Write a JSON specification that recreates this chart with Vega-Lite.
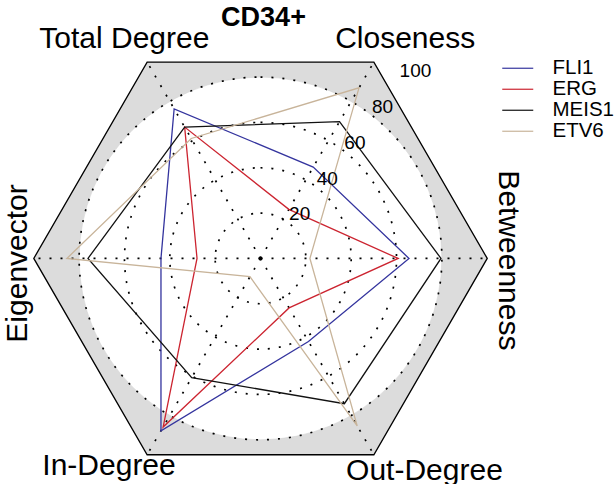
{
  "$schema": "https://vega.github.io/schema/vega-lite/v6.json",
  "width": 616,
  "height": 484,
  "autosize": {"type": "none"},
  "padding": 0,
  "background": "white",
  "config": {"view": {"stroke": null}, "font": "Liberation Sans"},
  "resolve": {"scale": {"radius": "independent"}},
  "datasets": {
    "scores": [
      {"gene": "FLI1", "axis": "Betweenness", "value": 65.5},
      {"gene": "FLI1", "axis": "Closeness", "value": 46.5},
      {"gene": "FLI1", "axis": "Total Degree", "value": 76.2},
      {"gene": "FLI1", "axis": "Eigenvector", "value": 43.9},
      {"gene": "FLI1", "axis": "In-Degree", "value": 87.8},
      {"gene": "FLI1", "axis": "Out-Degree", "value": 42.3},
      {"gene": "ERG", "axis": "Betweenness", "value": 60.7},
      {"gene": "ERG", "axis": "Closeness", "value": 25},
      {"gene": "ERG", "axis": "Total Degree", "value": 66.9},
      {"gene": "ERG", "axis": "Eigenvector", "value": 28},
      {"gene": "ERG", "axis": "In-Degree", "value": 85.9},
      {"gene": "ERG", "axis": "Out-Degree", "value": 25.2},
      {"gene": "MEIS1", "axis": "Betweenness", "value": 79.6},
      {"gene": "MEIS1", "axis": "Closeness", "value": 69.7},
      {"gene": "MEIS1", "axis": "Total Degree", "value": 66.9},
      {"gene": "MEIS1", "axis": "Eigenvector", "value": 76.1},
      {"gene": "MEIS1", "axis": "In-Degree", "value": 60.7},
      {"gene": "MEIS1", "axis": "Out-Degree", "value": 74},
      {"gene": "ETV6", "axis": "Betweenness", "value": 21.8},
      {"gene": "ETV6", "axis": "Closeness", "value": 86.9},
      {"gene": "ETV6", "axis": "Total Degree", "value": 61.1},
      {"gene": "ETV6", "axis": "Eigenvector", "value": 85.4},
      {"gene": "ETV6", "axis": "In-Degree", "value": 9.3},
      {"gene": "ETV6", "axis": "Out-Degree", "value": 85.3}
    ],
    "axes": [
      {"axis": "Betweenness"},
      {"axis": "Closeness"},
      {"axis": "Total Degree"},
      {"axis": "Eigenvector"},
      {"axis": "In-Degree"},
      {"axis": "Out-Degree"}
    ],
    "rings": [{"level": 20}, {"level": 40}, {"level": 60}, {"level": 80}],
    "ticks": [{"tick": 20}, {"tick": 40}, {"tick": 60}, {"tick": 80}, {"tick": 100}],
    "centre": [{"label": "centre"}],
    "heading": [{"label": "CD34+"}]
  },
  "layer": [
    {
      "data": {"name": "axes"},
      "transform": [
        {"calculate": "indexof(['Betweenness','Closeness','Total Degree','Eigenvector','In-Degree','Out-Degree'], datum.axis)", "as": "k"},
        {"calculate": "datum.k*PI/3", "as": "ang"},
        {"calculate": "100*cos(datum.ang)", "as": "x"},
        {"calculate": "100*sin(datum.ang)", "as": "y"}
      ],
      "mark": {"type": "line", "interpolate": "linear-closed", "fill": "#dcdcdc", "stroke": "black", "strokeWidth": 1.3},
      "encoding": {
        "x": {"field": "x", "type": "quantitative", "scale": {"domain": [-114.9, 156.8], "nice": false, "zero": false}, "axis": null},
        "y": {"field": "y", "type": "quantitative", "scale": {"domain": [-99.5, 114.0], "nice": false, "zero": false}, "axis": null},
        "order": {"field": "k", "type": "quantitative"}
      }
    },
    {
      "data": {"name": "rings"},
      "transform": [{"filter": "datum.level == 80"}, {"calculate": "0", "as": "cx"}, {"calculate": "0", "as": "cy"}],
      "mark": {"type": "arc", "theta": 0, "theta2": 6.2832, "fill": "white", "stroke": "#cfcfcf", "strokeWidth": 0.5},
      "encoding": {
        "x": {"field": "cx", "type": "quantitative", "axis": null},
        "y": {"field": "cy", "type": "quantitative", "axis": null},
        "radius": {"field": "level", "type": "quantitative", "stack": null, "scale": {"type": "linear", "domain": [0, 100], "range": [0, 226.7], "zero": true, "nice": false}}
      }
    },
    {
      "data": {"name": "rings"},
      "transform": [{"calculate": "0", "as": "cx"}, {"calculate": "0", "as": "cy"}],
      "mark": {"type": "arc", "theta": 0, "theta2": 6.2832, "filled": false, "stroke": "black", "strokeWidth": 1.7, "strokeDash": [2, 9]},
      "encoding": {
        "x": {"field": "cx", "type": "quantitative", "axis": null},
        "y": {"field": "cy", "type": "quantitative", "axis": null},
        "radius": {"field": "level", "type": "quantitative", "stack": null, "scale": {"type": "linear", "domain": [0, 100], "range": [0, 226.7], "zero": true, "nice": false}}
      }
    },
    {
      "data": {"name": "axes"},
      "transform": [
        {"calculate": "indexof(['Betweenness','Closeness','Total Degree','Eigenvector','In-Degree','Out-Degree'], datum.axis)", "as": "k"},
        {"calculate": "datum.k*PI/3", "as": "ang"},
        {"calculate": "100*cos(datum.ang)", "as": "x"},
        {"calculate": "100*sin(datum.ang)", "as": "y"},
        {"calculate": "0", "as": "cx"},
        {"calculate": "0", "as": "cy"}
      ],
      "mark": {"type": "rule", "stroke": "black", "strokeWidth": 1.7, "strokeDash": [2, 9]},
      "encoding": {
        "x": {"field": "cx", "type": "quantitative", "axis": null},
        "y": {"field": "cy", "type": "quantitative", "axis": null},
        "x2": {"field": "x"},
        "y2": {"field": "y"}
      }
    },
    {
      "data": {"name": "centre"},
      "transform": [{"calculate": "0", "as": "cx"}, {"calculate": "0", "as": "cy"}],
      "mark": {"type": "point", "filled": true, "color": "black", "size": 16, "opacity": 1},
      "encoding": {
        "x": {"field": "cx", "type": "quantitative", "axis": null},
        "y": {"field": "cy", "type": "quantitative", "axis": null}
      }
    },
    {
      "data": {"name": "scores"},
      "transform": [
        {"calculate": "indexof(['Betweenness','Closeness','Total Degree','Eigenvector','In-Degree','Out-Degree'], datum.axis)", "as": "k"},
        {"calculate": "datum.k*PI/3", "as": "ang"},
        {"calculate": "datum.value*cos(datum.ang)", "as": "x"},
        {"calculate": "datum.value*sin(datum.ang)", "as": "y"}
      ],
      "mark": {"type": "line", "interpolate": "linear-closed", "strokeWidth": 1.3},
      "encoding": {
        "x": {"field": "x", "type": "quantitative", "axis": null},
        "y": {"field": "y", "type": "quantitative", "axis": null},
        "order": {"field": "k", "type": "quantitative"},
        "color": {
          "field": "gene", "type": "nominal",
          "scale": {"domain": ["FLI1", "ERG", "MEIS1", "ETV6"], "range": ["#34349e", "#cc2430", "#111111", "#c8b49a"]},
          "legend": {"orient": "none", "legendX": 507.5, "legendY": 58, "title": null, "symbolType": "M-3,0H3", "symbolSize": 106.8, "symbolStrokeWidth": 1.2, "labelFontSize": 20.5, "labelFont": "Liberation Sans", "labelColor": "black", "labelOffset": 24.5, "rowPadding": -1.2, "padding": 0, "labelBaseline": "middle"}
        }
      }
    },
    {
      "data": {"name": "ticks"},
      "transform": [
        {"calculate": "datum.tick*cos(0.916)", "as": "x"},
        {"calculate": "datum.tick*sin(0.916)", "as": "y"}
      ],
      "mark": {"type": "text", "align": "left", "baseline": "alphabetic", "dx": 1, "dy": -2, "fontSize": 19, "font": "Liberation Sans", "color": "black"},
      "encoding": {
        "x": {"field": "x", "type": "quantitative", "axis": null},
        "y": {"field": "y", "type": "quantitative", "axis": null},
        "text": {"field": "tick", "type": "quantitative"}
      }
    },
    {
      "data": {"name": "heading"},
      "transform": [{"calculate": "0", "as": "cx"}, {"calculate": "100", "as": "cy"}],
      "mark": {"type": "text", "align": "center", "baseline": "alphabetic", "dx": 3, "dy": -5.8, "fontSize": 27, "fontWeight": "bold", "font": "Liberation Sans", "color": "black"},
      "encoding": {"x": {"field": "cx", "type": "quantitative", "axis": null}, "y": {"field": "cy", "type": "quantitative", "axis": null}, "text": {"field": "label", "type": "nominal"}}
    },
    {
      "data": {"name": "axes"},
      "transform": [
        {"filter": "datum.axis == 'Total Degree'"},
        {"calculate": "indexof(['Betweenness','Closeness','Total Degree','Eigenvector','In-Degree','Out-Degree'], datum.axis)", "as": "k"},
        {"calculate": "100*cos(datum.k*PI/3)", "as": "x"},
        {"calculate": "100*sin(datum.k*PI/3)", "as": "y"}
      ],
      "mark": {"type": "text", "align": "center", "baseline": "alphabetic", "dx": -22.8, "dy": -13.9, "fontSize": 30, "font": "Liberation Sans", "color": "black"},
      "encoding": {"x": {"field": "x", "type": "quantitative", "axis": null}, "y": {"field": "y", "type": "quantitative", "axis": null}, "text": {"field": "axis", "type": "nominal"}}
    },
    {
      "data": {"name": "axes"},
      "transform": [
        {"filter": "datum.axis == 'Closeness'"},
        {"calculate": "indexof(['Betweenness','Closeness','Total Degree','Eigenvector','In-Degree','Out-Degree'], datum.axis)", "as": "k"},
        {"calculate": "100*cos(datum.k*PI/3)", "as": "x"},
        {"calculate": "100*sin(datum.k*PI/3)", "as": "y"}
      ],
      "mark": {"type": "text", "align": "center", "baseline": "alphabetic", "dx": 31.3, "dy": -13.9, "fontSize": 30, "font": "Liberation Sans", "color": "black"},
      "encoding": {"x": {"field": "x", "type": "quantitative", "axis": null}, "y": {"field": "y", "type": "quantitative", "axis": null}, "text": {"field": "axis", "type": "nominal"}}
    },
    {
      "data": {"name": "axes"},
      "transform": [
        {"filter": "datum.axis == 'Betweenness'"},
        {"calculate": "indexof(['Betweenness','Closeness','Total Degree','Eigenvector','In-Degree','Out-Degree'], datum.axis)", "as": "k"},
        {"calculate": "100*cos(datum.k*PI/3)", "as": "x"},
        {"calculate": "100*sin(datum.k*PI/3)", "as": "y"}
      ],
      "mark": {"type": "text", "align": "center", "baseline": "alphabetic", "angle": 90, "dx": 2, "dy": -12, "fontSize": 30, "font": "Liberation Sans", "color": "black"},
      "encoding": {"x": {"field": "x", "type": "quantitative", "axis": null}, "y": {"field": "y", "type": "quantitative", "axis": null}, "text": {"field": "axis", "type": "nominal"}}
    },
    {
      "data": {"name": "axes"},
      "transform": [
        {"filter": "datum.axis == 'Eigenvector'"},
        {"calculate": "indexof(['Betweenness','Closeness','Total Degree','Eigenvector','In-Degree','Out-Degree'], datum.axis)", "as": "k"},
        {"calculate": "100*cos(datum.k*PI/3)", "as": "x"},
        {"calculate": "100*sin(datum.k*PI/3)", "as": "y"}
      ],
      "mark": {"type": "text", "align": "center", "baseline": "alphabetic", "angle": 270, "dx": -5, "dy": -7, "fontSize": 30, "font": "Liberation Sans", "color": "black"},
      "encoding": {"x": {"field": "x", "type": "quantitative", "axis": null}, "y": {"field": "y", "type": "quantitative", "axis": null}, "text": {"field": "axis", "type": "nominal"}}
    },
    {
      "data": {"name": "axes"},
      "transform": [
        {"filter": "datum.axis == 'In-Degree'"},
        {"calculate": "indexof(['Betweenness','Closeness','Total Degree','Eigenvector','In-Degree','Out-Degree'], datum.axis)", "as": "k"},
        {"calculate": "100*cos(datum.k*PI/3)", "as": "x"},
        {"calculate": "100*sin(datum.k*PI/3)", "as": "y"}
      ],
      "mark": {"type": "text", "align": "center", "baseline": "alphabetic", "dx": -38.1, "dy": 19.9, "fontSize": 30, "font": "Liberation Sans", "color": "black"},
      "encoding": {"x": {"field": "x", "type": "quantitative", "axis": null}, "y": {"field": "y", "type": "quantitative", "axis": null}, "text": {"field": "axis", "type": "nominal"}}
    },
    {
      "data": {"name": "axes"},
      "transform": [
        {"filter": "datum.axis == 'Out-Degree'"},
        {"calculate": "indexof(['Betweenness','Closeness','Total Degree','Eigenvector','In-Degree','Out-Degree'], datum.axis)", "as": "k"},
        {"calculate": "100*cos(datum.k*PI/3)", "as": "x"},
        {"calculate": "100*sin(datum.k*PI/3)", "as": "y"}
      ],
      "mark": {"type": "text", "align": "center", "baseline": "alphabetic", "dx": 50.6, "dy": 25.2, "fontSize": 30, "font": "Liberation Sans", "color": "black"},
      "encoding": {"x": {"field": "x", "type": "quantitative", "axis": null}, "y": {"field": "y", "type": "quantitative", "axis": null}, "text": {"field": "axis", "type": "nominal"}}
    }
  ]
}
